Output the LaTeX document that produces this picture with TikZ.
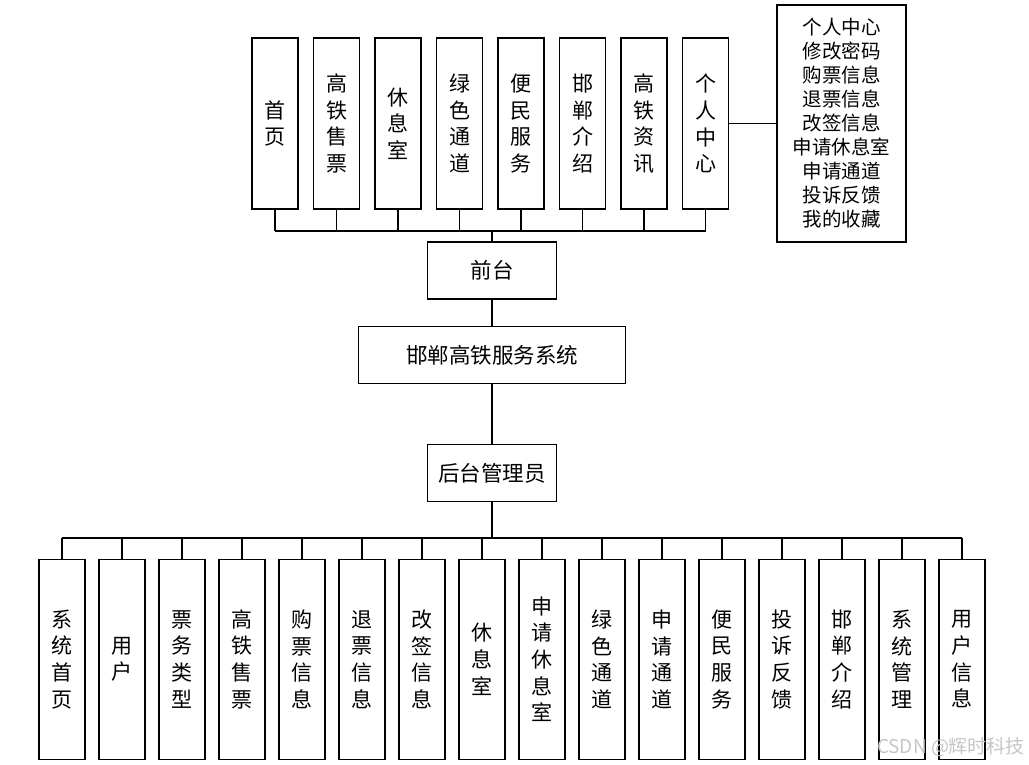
\documentclass[tikz,border=0pt]{standalone}
\usepackage{fontspec}
\setmainfont{Noto Sans CJK SC}
\usetikzlibrary{positioning}

\begin{document}
\begin{tikzpicture}[x=1pt, y=-1pt,
    colbox/.style={draw, line width=1.2pt, minimum width=46pt, inner sep=0pt,
                   align=center, font=\fontsize{21}{26.7}\selectfont},
    topbox/.style={colbox, minimum height=171pt},
    botbox/.style={colbox, minimum height=200pt},
    midbox/.style={draw, line width=1.2pt, minimum height=57pt, inner sep=0pt,
                   font=\fontsize{21.5}{26}\selectfont},
    listbox/.style={draw, line width=1.2pt, minimum width=129pt, minimum height=237pt,
                    inner sep=0pt, align=center, font=\fontsize{19.5}{24}\selectfont},
    link/.style={line width=1.2pt},
    buslink/.style={line width=2pt}
]
\useasboundingbox (0,0) rectangle (1029,765);

% front end modules
\foreach \txt [count=\i from 0] in {{首\\页},{高\\铁\\售\\票},{休\\息\\室},{绿\\色\\通\\道},
    {便\\民\\服\\务},{邯\\郸\\介\\绍},{高\\铁\\资\\讯},{个\\人\\中\\心}}
  \node[topbox] (t\i) at ({275+61.5*\i},123.5) {\txt};

\node[listbox] (pc) at (841.5,123.5) {个人中心\\修改密码\\购票信息\\退票信息\\改签信息\\申请休息室\\申请通道\\投诉反馈\\我的收藏};
\draw[link] (t7.east) -- (pc.west |- t7.east);

% centre column
\node[midbox, minimum width=129pt] (front) at (492,270.5) {前台};
\node[midbox, minimum width=267pt] (sys) at (492,355) {邯郸高铁服务系统};
\node[midbox, minimum width=129pt] (admin) at (492,473) {后台管理员};

\coordinate (topbus) at (492,231);
\foreach \i in {0,...,7}
  \draw[link] (t\i.south) -- (t\i.south |- topbus);
\draw[link] (t0.south |- topbus) -- (t7.south |- topbus);
\draw[link] (topbus) -- (front);
\draw[link] (front) -- (sys);
\draw[link] (sys) -- (admin);

% back end modules
\foreach \txt [count=\i from 0] in {{系\\统\\首\\页},{用\\户},{票\\务\\类\\型},{高\\铁\\售\\票},
    {购\\票\\信\\息},{退\\票\\信\\息},{改\\签\\信\\息},{休\\息\\室},{申\\请\\休\\息\\室},
    {绿\\色\\通\\道},{申\\请\\通\\道},{便\\民\\服\\务},{投\\诉\\反\\馈},{邯\\郸\\介\\绍},
    {系\\统\\管\\理},{用\\户\\信\\息}}
  \node[botbox] (b\i) at ({62+60*\i},659.3) {\txt};

\coordinate (botbus) at (492,538);
\draw[buslink] (admin) -- (botbus);
\draw[buslink] (b0.north |- botbus) -- (b15.north |- botbus);
\foreach \i in {0,...,15}
  \draw[link] (b\i.north |- botbus) -- (b\i.north);

\node[text=gray!45, font=\fontsize{19}{22}\selectfont] (mark) at (951,747) {CSDN @辉时科技};
\end{tikzpicture}
\end{document}
